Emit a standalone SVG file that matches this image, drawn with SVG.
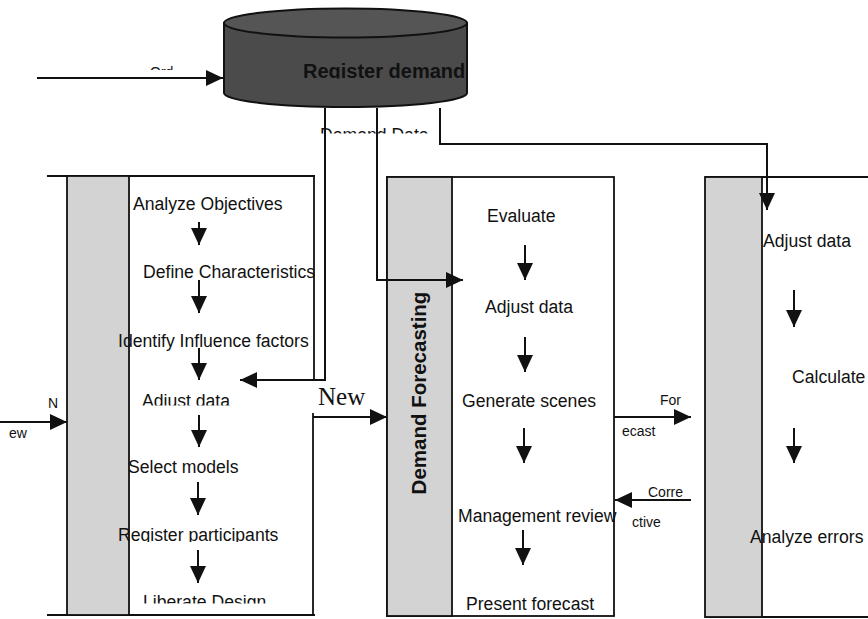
<svg xmlns="http://www.w3.org/2000/svg" width="868" height="619" viewBox="0 0 868 619">
<defs>
<style>
.t{font-family:"Liberation Sans",Arial,sans-serif;font-size:17.6px;fill:#111}
.s{font-family:"Liberation Sans",Arial,sans-serif;font-size:14px;fill:#111}
.b{font-family:"Liberation Sans",Arial,sans-serif;font-weight:bold;fill:#111}
.ln{fill:none;stroke:#111;stroke-width:2}
.bd{fill:none;stroke:#111;stroke-width:1.8}
.strip{fill:#d3d3d3;stroke:#111;stroke-width:1.8}
.panel{fill:#fff;stroke:#111;stroke-width:1.8}
</style>
<marker id="ah" markerUnits="userSpaceOnUse" markerWidth="17" markerHeight="16" refX="17" refY="8" orient="auto">
<path d="M0,0 L17,8 L0,16 Z" fill="#111"/>
</marker>
<clipPath id="cOrd"><rect x="140" y="55" width="60" height="15"/></clipPath>
<clipPath id="cReg"><rect x="224" y="40" width="244" height="38.5"/></clipPath>
<clipPath id="cDD"><rect x="300" y="120" width="140" height="13.5"/></clipPath>
<clipPath id="cAdj"><rect x="130" y="385" width="120" height="20.5"/></clipPath>
<clipPath id="cRP"><rect x="110" y="520" width="200" height="22"/></clipPath>
<clipPath id="cLD"><rect x="130" y="590" width="180" height="13.5"/></clipPath>
</defs>

<g id="register-demand">
<path d="M224,23 L224,93 A121.5,14 0 0 0 467,93 L467,23 Z" fill="#4b4b4b" stroke="#111" stroke-width="2"/>
<ellipse cx="345.5" cy="23" rx="121.5" ry="14.5" fill="#555" stroke="#111" stroke-width="2"/>
<text class="b" font-size="20" x="303" y="77.5" clip-path="url(#cReg)">Register demand</text>
</g>

<g id="panel-1">
<line class="bd" x1="47" y1="176" x2="315" y2="176"/>
<line class="bd" x1="47" y1="615" x2="315" y2="615"/>
<rect class="strip" x="67" y="176" width="62" height="439"/>
<line class="bd" x1="314" y1="176" x2="314" y2="380"/>
<line class="bd" x1="313" y1="413" x2="313" y2="615"/>
<text class="t" x="133" y="210">Analyze Objectives</text>
<text class="t" x="143" y="278">Define Characteristics</text>
<text class="t" x="118" y="347">Identify Influence factors</text>
<text class="t" x="142" y="407" clip-path="url(#cAdj)">Adjust data</text>
<text class="t" x="128" y="473">Select models</text>
<text class="t" x="118" y="541" clip-path="url(#cRP)">Register participants</text>
<text class="t" x="143" y="608" clip-path="url(#cLD)">Liberate Design</text>
<path class="ln" d="M199,222 V245" marker-end="url(#ah)"/>
<path class="ln" d="M199,280 V313" marker-end="url(#ah)"/>
<path class="ln" d="M199,348 V380" marker-end="url(#ah)"/>
<path class="ln" d="M199,415 V447" marker-end="url(#ah)"/>
<path class="ln" d="M198,482 V515" marker-end="url(#ah)"/>
<path class="ln" d="M198,550 V583" marker-end="url(#ah)"/>
</g>

<g id="panel-2">
<rect class="panel" x="387" y="177" width="227" height="439"/>
<rect class="strip" x="387" y="177" width="65" height="439"/>
<text class="b" font-size="20.5" text-anchor="middle" transform="translate(426,393) rotate(-90)">Demand Forecasting</text>
<text class="t" x="487" y="222">Evaluate</text>
<text class="t" x="485" y="313">Adjust data</text>
<text class="t" x="462" y="407">Generate scenes</text>
<text class="t" x="458" y="522">Management review</text>
<text class="t" x="466" y="610">Present forecast</text>
<path class="ln" d="M525,245 V280" marker-end="url(#ah)"/>
<path class="ln" d="M525,337 V372" marker-end="url(#ah)"/>
<path class="ln" d="M524,428 V463" marker-end="url(#ah)"/>
<path class="ln" d="M523,530 V565" marker-end="url(#ah)"/>
</g>

<g id="panel-3">
<line class="bd" x1="705" y1="177" x2="868" y2="177"/>
<line class="bd" x1="705" y1="617" x2="868" y2="617"/>
<rect class="strip" x="705" y="177" width="57" height="440"/>
<text class="t" x="763" y="247">Adjust data</text>
<text class="t" x="792" y="383">Calculate</text>
<text class="t" x="750" y="543">Analyze errors</text>
<path class="ln" d="M794,290 V327" marker-end="url(#ah)"/>
<path class="ln" d="M794,428 V463" marker-end="url(#ah)"/>
</g>

<g id="connectors">
<path class="ln" d="M37,78 H223" marker-end="url(#ah)"/>
<text class="s" font-size="16" x="150" y="77" clip-path="url(#cOrd)">Ord</text>
<path class="ln" d="M325,108 V380 H240" marker-end="url(#ah)"/>
<path class="ln" d="M377,108 V280 H463" marker-end="url(#ah)"/>
<path class="ln" d="M440,108 V144 H767 V210" marker-end="url(#ah)"/>
<text class="t" x="320" y="141" clip-path="url(#cDD)">Demand Data</text>
<path class="ln" d="M0,422 H67" marker-end="url(#ah)"/>
<text class="s" x="48" y="408">N</text>
<text class="s" x="9" y="438">ew</text>
<path class="ln" d="M313,417 H387" marker-end="url(#ah)"/>
<text x="318" y="405" font-family="Liberation Serif,Times New Roman,serif" font-size="25" fill="#111">New</text>
<path class="ln" d="M614,417 H691" marker-end="url(#ah)"/>
<text class="s" x="660" y="405">For</text>
<text class="s" x="622" y="436">ecast</text>
<path class="ln" d="M691,500 H615" marker-end="url(#ah)"/>
<text class="s" x="648" y="497">Corre</text>
<text class="s" x="632" y="527">ctive</text>
</g>
</svg>
